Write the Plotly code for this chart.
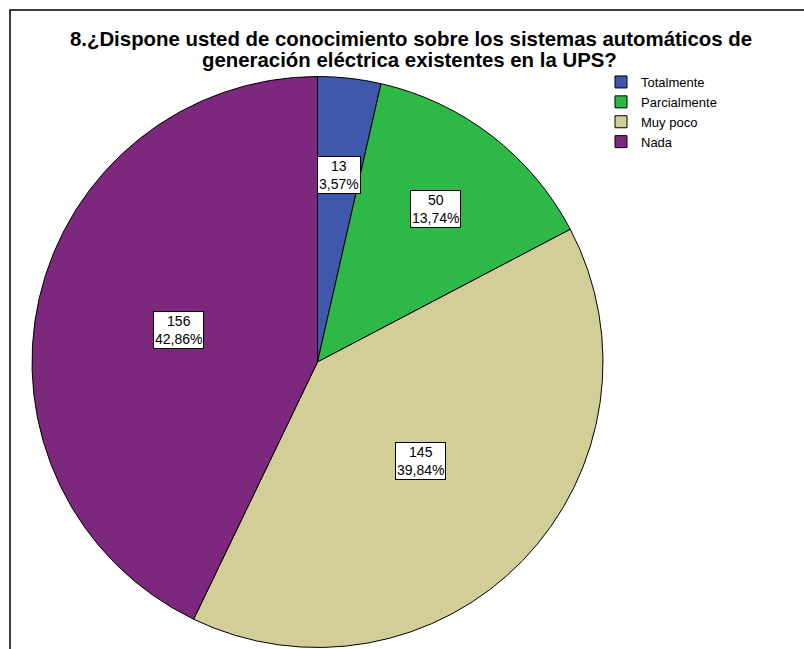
import math
import plotly.graph_objects as go

# ---- data ----
categories = ["Totalmente", "Parcialmente", "Muy poco", "Nada"]
counts = [13, 50, 145, 156]
colors = ["#3E58AC", "#2EB848", "#D3CE97", "#7C287D"]
title_lines = [
    "8.¿Dispone usted de conocimiento sobre los sistemas automáticos de",
    "generación eléctrica existentes en la UPS?",
]

# ---- layout config (pixels) ----
W, H = 804, 649
cx_px, cy_px, r_px = 317.5, 362.0, 285.5
label_radius_frac = [0.66, 0.675, 0.5, 0.5]
FONT = "Liberation Sans, Arial, sans-serif"

total = sum(counts)
pct_text = [f"{c / total * 100:.2f}".replace(".", ",") + "%" for c in counts]

dom_x = [(cx_px - r_px) / W, (cx_px + r_px) / W]
dom_y = [1 - (cy_px + r_px) / H, 1 - (cy_px - r_px) / H]

fig = go.Figure(
    go.Pie(
        labels=categories,
        values=counts,
        sort=False,
        direction="clockwise",
        rotation=0,
        textinfo="none",
        hoverinfo="label+value+percent",
        marker=dict(colors=colors, line=dict(color="#000000", width=1)),
        domain=dict(x=dom_x, y=dom_y),
    )
)

# data labels placed along each slice's mid angle
annotations = []
cum = 0
for c, p, f in zip(counts, pct_text, label_radius_frac):
    theta = 2 * math.pi * (cum + c / 2) / total
    cum += c
    px = cx_px + f * r_px * math.sin(theta)
    py = cy_px - f * r_px * math.cos(theta)
    annotations.append(
        dict(
            x=px / W, y=1 - py / H, xref="paper", yref="paper",
            xanchor="center", yanchor="middle",
            text=f"{c}<br>{p}", showarrow=False,
            font=dict(family=FONT, size=14, color="#000"),
            bgcolor="#FFFFFF", bordercolor="#000000", borderwidth=1, borderpad=1,
            align="center",
        )
    )

# second title line
annotations.append(
    dict(
        x=410 / W, y=1 - 60 / H, xref="paper", yref="paper",
        xanchor="center", yanchor="middle", showarrow=False,
        text=f"<b>{title_lines[1]}</b>",
        font=dict(family=FONT, size=20.4, color="#000"),
    )
)

fig.update_layout(
    width=W, height=H,
    margin=dict(l=0, r=0, t=0, b=0),
    paper_bgcolor="#FFFFFF",
    plot_bgcolor="#FFFFFF",
    title=dict(
        text=f"<b>{title_lines[0]}</b>",
        x=411 / W, xanchor="center",
        y=1 - 39 / H, yanchor="middle", yref="container",
        font=dict(family=FONT, size=20.4, color="#000"),
    ),
    legend=dict(
        x=601 / W, xanchor="left",
        y=1 - 67 / H, yanchor="top",
        font=dict(family=FONT, size=13, color="#000"),
        bgcolor="rgba(0,0,0,0)",
        itemwidth=30,
    ),
    showlegend=True,
    annotations=annotations,
    shapes=[
        dict(
            type="rect", xref="paper", yref="paper",
            x0=10 / W, x1=1.05, y0=-0.05, y1=1 - 10 / H,
            line=dict(color="#000000", width=1.5), fillcolor="rgba(0,0,0,0)",
            layer="below",
        )
    ],
)

fig.write_html("out.html")
